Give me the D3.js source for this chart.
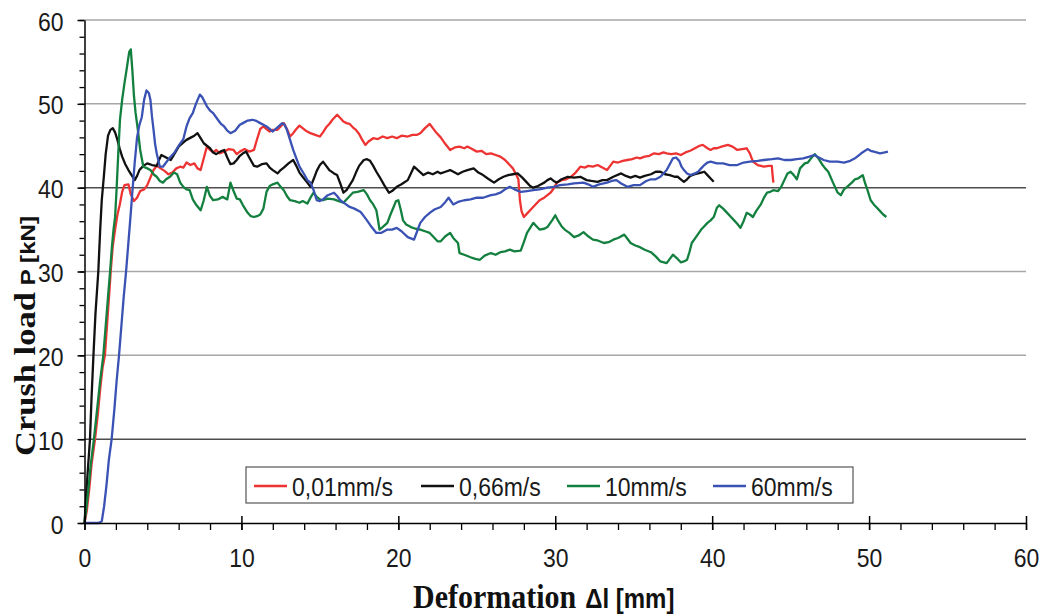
<!DOCTYPE html>
<html><head><meta charset="utf-8">
<script src="https://cdn.jsdelivr.net/npm/d3@7"></script>
<style>body{margin:0;background:#fff}</style>
</head><body><svg id="c" width="1043" height="615"></svg>
<script>
const seriesNames = ["0,01mm/s","0,66m/s","10mm/s","60mm/s"];
const seriesColors = ["#ee3333","#111111","#13803f","#3a52b4"];
const xTicks = [0,10,20,30,40,50,60];
const yTicks = [0,10,20,30,40,50,60];

// Deformation [mm], crush load [kN]
const red = [[0,0],[0.15,1.5],[0.3,4],[0.45,7],[0.67,10],[0.85,13],[1.0,16],[1.15,18.5],[1.3,20],[1.45,24],[1.6,28],[1.67,30],[1.8,33],[1.95,35],[2.1,36.8],[2.25,38],[2.4,39.5],[2.55,40.3],[2.8,40.4],[2.95,39.2],[3.15,38.4],[3.35,38.8],[3.55,39.6],[3.8,39.8],[4.0,40.3],[4.2,41.2],[4.4,42.1],[4.6,42.6],[4.85,42.3],[5.1,42.0],[5.35,41.6],[5.6,41.8],[5.85,42.3],[6.1,42.5],[6.3,42.4],[6.5,43.0],[6.75,42.7],[7.0,42.9],[7.2,42.3],[7.4,42.1],[7.6,43.5],[7.8,44.9],[8.0,44.5],[8.2,44.2],[8.4,44.5],[8.6,44.1],[8.9,44.3],[9.2,44.6],[9.5,44.5],[9.7,44.0],[9.9,44.3],[10.2,44.6],[10.5,44.3],[10.8,44.5],[11.0,45.8],[11.2,47.0],[11.4,47.3],[11.6,47.0],[11.8,46.7],[12.0,46.9],[12.3,46.9],[12.5,47.3],[12.7,47.7],[12.9,47.0],[13.1,46.1],[13.3,46.5],[13.5,47.0],[13.7,47.4],[13.9,47.1],[14.1,46.8],[14.4,46.5],[14.7,46.3],[15.0,46.1],[15.2,46.6],[15.4,47.2],[15.6,47.6],[15.8,48.1],[16.1,48.7],[16.3,48.3],[16.5,47.9],[16.7,47.7],[16.9,47.6],[17.1,47.2],[17.3,46.9],[17.5,46.4],[17.7,45.7],[17.9,45.1],[18.1,45.5],[18.4,45.9],[18.7,45.8],[19.0,46.1],[19.3,45.9],[19.6,46.1],[19.9,45.9],[20.2,46.2],[20.6,46.1],[20.9,46.3],[21.2,46.3],[21.4,46.5],[21.7,47.1],[22.0,47.6],[22.2,47.1],[22.4,46.6],[22.7,46.0],[23.0,45.2],[23.3,44.5],[23.6,44.8],[23.9,44.9],[24.2,44.7],[24.4,44.9],[24.7,44.6],[25.0,44.3],[25.3,44.4],[25.6,44.0],[25.9,44.1],[26.2,43.9],[26.5,43.7],[26.8,43.3],[27.1,42.7],[27.3,42.3],[27.5,41.6],[27.65,41.0],[27.75,38.5],[27.85,37.2],[28.0,36.5],[28.2,36.9],[28.4,37.3],[28.7,37.9],[29.0,38.5],[29.3,38.8],[29.7,39.4],[29.9,39.9],[30.1,40.6],[30.4,40.9],[30.7,41.0],[31.0,41.3],[31.3,41.8],[31.6,42.5],[31.9,42.4],[32.1,42.6],[32.4,42.5],[32.7,42.7],[33.0,42.4],[33.3,42.1],[33.5,42.6],[33.7,43.1],[34.0,43.0],[34.3,43.2],[34.6,43.3],[34.9,43.4],[35.2,43.6],[35.4,43.5],[35.7,43.7],[36.0,43.8],[36.3,44.1],[36.6,44.0],[36.9,44.2],[37.1,44.1],[37.4,44.0],[37.7,44.1],[38.0,43.9],[38.3,44.2],[38.6,44.4],[38.9,44.7],[39.2,45.0],[39.4,45.1],[39.7,44.7],[39.9,44.5],[40.1,44.7],[40.3,44.7],[40.6,44.9],[41.0,45.1],[41.3,44.9],[41.6,44.5],[41.9,44.6],[42.2,44.7],[42.4,44.1],[42.6,43.1],[42.9,42.7],[43.1,42.6],[43.3,42.5],[43.6,42.6],[43.8,42.6],[43.85,41.5],[43.9,40.6]];

const black = [[0,0],[0.1,3],[0.2,6],[0.35,10],[0.45,15],[0.57,20],[0.7,25],[0.88,30],[1.0,35],[1.1,38.5],[1.24,41.5],[1.35,44],[1.5,46.2],[1.65,46.9],[1.8,47.1],[1.95,46.6],[2.1,45.7],[2.25,44.6],[2.4,43.7],[2.6,42.8],[2.8,42.1],[3.0,41.5],[3.2,40.9],[3.35,41.4],[3.5,42.1],[3.75,42.6],[4.0,42.9],[4.3,42.7],[4.6,42.6],[4.75,43.3],[4.9,43.9],[5.2,43.6],[5.5,43.3],[5.75,44.1],[6.0,44.9],[6.25,45.3],[6.5,45.7],[6.8,46.0],[7.0,46.2],[7.2,46.5],[7.4,45.9],[7.6,45.3],[7.8,45.0],[8.0,44.7],[8.2,44.2],[8.4,44.0],[8.65,44.3],[8.9,44.5],[9.1,43.6],[9.3,42.8],[9.5,42.9],[9.7,43.3],[9.9,43.8],[10.1,44.1],[10.3,44.3],[10.5,43.6],[10.8,42.6],[11.0,42.5],[11.3,42.8],[11.6,42.9],[11.8,42.4],[12.0,42.1],[12.3,41.7],[12.5,42.1],[12.7,42.4],[13.0,42.9],[13.3,43.3],[13.5,42.6],[13.7,41.8],[13.9,41.3],[14.2,40.6],[14.4,40.1],[14.6,41.0],[14.8,42.0],[15.0,42.7],[15.2,43.1],[15.4,42.6],[15.6,42.1],[15.9,41.7],[16.1,41.5],[16.3,40.5],[16.5,39.4],[16.7,39.7],[16.9,40.3],[17.1,40.9],[17.3,41.8],[17.5,42.6],[17.8,43.3],[18.0,43.4],[18.2,43.2],[18.4,42.6],[18.6,41.9],[18.8,41.3],[19.1,40.3],[19.4,39.4],[19.6,39.6],[19.9,40.1],[20.2,40.4],[20.6,40.9],[20.8,41.7],[21.0,42.5],[21.3,42.0],[21.6,41.5],[21.9,41.8],[22.2,41.6],[22.5,41.9],[22.7,41.7],[23.0,41.9],[23.3,42.1],[23.6,41.8],[23.8,41.6],[24.1,41.9],[24.4,42.1],[24.8,42.3],[25.1,41.8],[25.4,41.5],[25.7,41.1],[26.1,40.6],[26.4,41.0],[26.7,41.3],[27.0,41.5],[27.3,41.6],[27.6,41.7],[27.9,41.2],[28.2,40.6],[28.4,40.2],[28.6,40.0],[28.9,40.2],[29.1,40.4],[29.3,40.6],[29.5,40.9],[29.7,41.1],[29.9,40.8],[30.1,40.6],[30.4,41.0],[30.8,41.3],[31.2,41.2],[31.6,41.3],[32.0,40.9],[32.3,40.8],[32.7,40.7],[33.0,40.9],[33.3,40.9],[33.7,41.3],[34.2,41.7],[34.5,41.4],[34.8,41.2],[35.1,41.4],[35.4,41.2],[35.7,41.4],[36.1,41.6],[36.4,41.9],[36.7,41.9],[37.0,41.6],[37.3,41.5],[37.6,41.3],[37.8,41.3],[38.0,41.0],[38.2,40.7],[38.4,41.0],[38.6,41.4],[38.9,41.6],[39.1,41.7],[39.3,41.8],[39.5,41.9],[39.7,41.5],[39.9,41.1],[40.1,40.7]];

const green = [[0,0],[0.1,1.5],[0.25,4],[0.4,7],[0.6,10],[0.8,13.5],[1.0,17],[1.2,20],[1.35,23.5],[1.5,27],[1.63,30],[1.75,33],[1.85,35],[1.95,36.5],[2.05,40],[2.15,44],[2.26,48.1],[2.4,50.5],[2.55,52.5],[2.7,54.3],[2.85,56.2],[2.95,56.5],[3.05,54],[3.15,51],[3.25,49],[3.4,46.9],[3.55,44.5],[3.75,42.5],[4.0,42.3],[4.2,42.1],[4.4,41.6],[4.6,41.3],[4.8,40.8],[5.0,40.6],[5.2,41.0],[5.45,41.3],[5.7,41.8],[5.9,41.6],[6.1,40.6],[6.3,40.1],[6.5,39.8],[6.7,39.7],[6.9,38.6],[7.1,38.0],[7.4,37.3],[7.6,38.5],[7.8,40.1],[8.0,39.0],[8.2,38.5],[8.5,38.6],[8.8,38.9],[9.1,38.6],[9.3,40.6],[9.5,39.6],[9.7,38.7],[9.9,38.6],[10.1,37.9],[10.4,37.0],[10.6,36.6],[10.8,36.5],[11.0,36.6],[11.2,36.8],[11.4,37.5],[11.6,39.5],[11.8,40.2],[12.0,40.4],[12.3,40.6],[12.5,40.1],[12.7,39.7],[12.9,39.0],[13.1,38.5],[13.4,38.4],[13.7,38.2],[13.9,38.4],[14.2,38.1],[14.4,38.8],[14.6,39.4],[14.8,38.9],[15.0,38.6],[15.2,38.5],[15.5,38.7],[15.9,38.6],[16.2,38.4],[16.5,38.2],[16.8,38.8],[17.1,39.4],[17.4,39.5],[17.8,39.7],[18.0,39.2],[18.2,38.5],[18.4,38.0],[18.6,37.3],[18.7,36.2],[18.8,35.0],[19.0,35.3],[19.3,35.8],[19.5,36.8],[19.7,37.7],[19.85,38.4],[20.0,38.5],[20.15,37.4],[20.3,36.1],[20.5,35.6],[20.8,35.3],[21.1,35.1],[21.4,35.0],[21.7,34.8],[22.0,34.6],[22.2,34.2],[22.5,33.6],[22.7,33.6],[23.0,34.2],[23.3,34.6],[23.5,34.0],[23.8,33.4],[23.9,32.2],[24.2,32.0],[24.6,31.7],[24.9,31.5],[25.2,31.4],[25.5,31.9],[25.9,32.2],[26.2,32.0],[26.5,32.3],[26.8,32.4],[27.1,32.6],[27.4,32.4],[27.8,32.5],[28.0,33.5],[28.2,34.6],[28.4,35.2],[28.6,35.8],[28.8,35.4],[29.0,35.0],[29.3,35.1],[29.5,35.3],[29.8,36.1],[30.0,36.7],[30.2,36.0],[30.4,35.4],[30.6,35.0],[30.9,34.6],[31.2,34.1],[31.5,34.3],[31.8,34.7],[32.1,34.2],[32.4,33.8],[32.7,33.7],[33.1,33.4],[33.4,33.5],[33.7,33.8],[34.0,34.0],[34.4,34.4],[34.6,33.9],[34.8,33.4],[35.1,33.1],[35.4,32.9],[35.7,32.6],[36.1,32.3],[36.4,31.8],[36.7,31.2],[37.1,31.0],[37.3,31.5],[37.5,32.0],[37.8,31.5],[38.0,31.1],[38.2,31.2],[38.4,31.4],[38.55,32.3],[38.7,33.4],[39.0,34.2],[39.3,35.0],[39.5,35.4],[39.7,35.8],[39.9,36.1],[40.1,36.5],[40.3,37.6],[40.45,37.9],[40.7,37.5],[41.0,36.9],[41.2,36.5],[41.4,36.1],[41.6,35.7],[41.8,35.2],[42.0,36.0],[42.2,37.0],[42.4,36.8],[42.6,36.5],[42.8,37.2],[43.1,38.0],[43.3,38.8],[43.5,39.4],[43.7,39.5],[43.9,39.7],[44.2,39.6],[44.4,40.1],[44.6,40.9],[44.8,41.7],[45.0,41.9],[45.2,41.5],[45.4,41.0],[45.6,42.3],[45.9,42.9],[46.1,43.0],[46.3,43.5],[46.55,44.0],[46.8,43.4],[47.0,42.8],[47.2,42.3],[47.4,41.9],[47.7,40.6],[48.0,39.4],[48.2,39.1],[48.4,39.8],[48.6,40.1],[48.9,40.6],[49.1,41.0],[49.3,41.1],[49.45,41.3],[49.6,41.5],[49.75,40.5],[49.9,39.7],[50.1,38.5],[50.3,38.0],[50.5,37.6],[50.7,37.2],[50.9,36.8],[51.1,36.5]];

const blue = [[0,0],[0.5,0],[0.9,0],[1.1,0.2],[1.25,2],[1.4,4.5],[1.55,7.5],[1.73,10],[1.9,13.5],[2.05,17],[2.2,20],[2.35,23.5],[2.5,27],[2.65,30],[2.8,33.5],[2.95,37],[3.05,39.5],[3.2,43],[3.35,46],[3.5,47.5],[3.65,48.4],[3.8,50.5],[3.95,51.6],[4.1,51.3],[4.2,50.5],[4.3,48.5],[4.4,46.9],[4.5,45.2],[4.6,44.1],[4.8,42.5],[5.0,42.5],[5.2,43.0],[5.4,43.5],[5.7,44.1],[6.0,45.0],[6.3,45.8],[6.5,47.3],[6.7,48.3],[6.9,48.9],[7.1,50.0],[7.35,51.1],[7.5,50.8],[7.8,49.7],[8.0,49.2],[8.2,48.9],[8.5,48.1],[8.7,47.6],[8.9,47.3],[9.1,46.8],[9.3,46.5],[9.6,46.8],[9.9,47.5],[10.1,47.7],[10.4,48.0],[10.7,48.1],[10.9,48.0],[11.2,47.7],[11.4,47.5],[11.6,47.3],[11.8,47.0],[12.0,46.7],[12.3,47.2],[12.6,47.7],[12.75,47.5],[12.9,46.9],[13.1,45.7],[13.3,44.5],[13.5,43.5],[13.7,42.5],[14.0,41.6],[14.2,40.9],[14.4,40.6],[14.6,39.7],[14.8,38.5],[15.0,38.4],[15.2,38.6],[15.5,39.1],[15.9,39.4],[16.1,39.0],[16.3,38.5],[16.6,38.1],[16.9,37.7],[17.2,37.5],[17.6,37.1],[17.8,36.6],[18.0,36.1],[18.3,35.3],[18.6,34.6],[18.9,34.6],[19.3,35.0],[19.6,35.0],[19.9,35.2],[20.2,34.8],[20.6,34.1],[21.0,33.8],[21.2,34.8],[21.4,35.8],[21.7,36.5],[22.0,37.0],[22.3,37.4],[22.7,37.7],[23.0,38.3],[23.2,38.8],[23.5,38.0],[23.8,38.3],[24.2,38.5],[24.6,38.6],[25.0,38.8],[25.4,38.8],[25.9,39.1],[26.2,39.2],[26.5,39.4],[26.8,39.8],[27.1,40.1],[27.4,39.8],[27.8,39.5],[28.2,39.6],[28.6,39.7],[29.0,39.8],[29.5,40.0],[29.9,40.1],[30.3,40.3],[30.8,40.4],[31.2,40.5],[31.8,40.6],[32.1,40.4],[32.4,40.1],[32.8,40.4],[33.3,40.6],[33.6,40.8],[33.9,40.9],[34.2,40.5],[34.6,40.1],[35.0,40.3],[35.4,40.3],[35.8,40.8],[36.1,41.0],[36.4,41.0],[36.7,41.3],[36.9,41.7],[37.1,42.1],[37.3,42.8],[37.5,43.5],[37.7,43.6],[37.9,43.2],[38.05,42.5],[38.2,42.1],[38.4,41.7],[38.6,41.5],[38.9,41.7],[39.1,41.9],[39.3,42.3],[39.5,42.7],[39.7,43.0],[39.9,43.1],[40.3,42.9],[40.7,42.9],[41.1,42.7],[41.6,42.7],[42.0,43.0],[42.4,43.1],[42.9,43.2],[43.3,43.3],[43.8,43.4],[44.2,43.5],[44.6,43.3],[45.0,43.3],[45.4,43.4],[45.8,43.5],[46.2,43.7],[46.5,43.9],[46.8,43.6],[47.1,43.3],[47.5,43.1],[48.0,43.1],[48.4,43.0],[48.8,43.2],[49.1,43.5],[49.5,44.1],[49.9,44.6],[50.1,44.4],[50.3,44.3],[50.7,44.1],[51.0,44.2],[51.2,44.3]];

const seriesData = [red, black, green, blue];

const SY = 1.15; // vertical stretch of the original text
const svg = d3.select("#c");
const x = d3.scaleLinear().domain([0, 60]).range([84.5, 1026]);
const y = d3.scaleLinear().domain([0, 60]).range([523, 20]);

// gridlines
svg.append("g").selectAll("line").data(yTicks.filter(v => v > 0)).join("line")
  .attr("x1", x(0)).attr("x2", x(60))
  .attr("y1", d => y(d)).attr("y2", d => y(d))
  .attr("stroke", d => (d === 10 || d === 40) ? "#4d4d4d" : "#a6a6a6")
  .attr("stroke-width", 1.5);

// series
const line = d3.line().x(d => x(d[0])).y(d => y(d[1]));
svg.append("g").selectAll("path").data(seriesData).join("path")
  .attr("d", line).attr("fill", "none")
  .attr("stroke", (d, i) => seriesColors[i])
  .attr("stroke-width", 2.3).attr("stroke-linejoin", "round");

// minor ticks
svg.append("g").attr("transform", `translate(0,${y(0)})`)
  .call(d3.axisBottom(x).tickValues(d3.range(0, 61, 2)).tickSize(7).tickSizeOuter(0).tickFormat(""))
  .call(g => g.select(".domain").remove())
  .selectAll("line").attr("stroke", "#000").attr("stroke-width", 1.3);
svg.append("g").attr("transform", `translate(${x(0)},0)`)
  .call(d3.axisLeft(y).tickValues(d3.range(0, 61, 2)).tickSize(5).tickSizeOuter(0).tickFormat(""))
  .call(g => g.select(".domain").remove())
  .selectAll("line").attr("stroke", "#000").attr("stroke-width", 1.3);

// major x axis
const gx = svg.append("g").attr("transform", `translate(0,${y(0)})`)
  .call(d3.axisBottom(x).tickValues(xTicks).tickSize(7).tickSizeOuter(0));
gx.select(".domain").attr("stroke", "#000").attr("stroke-width", 1.5);
gx.selectAll(".tick line").attr("y1", -7).attr("stroke", "#000").attr("stroke-width", 1.5);
gx.selectAll(".tick text")
  .attr("y", 0).attr("dy", "0.71em")
  .attr("transform", `translate(0,25) scale(1,${SY})`)
  .attr("font-family", "Liberation Sans, Arial, sans-serif").attr("font-size", 23).attr("fill", "#1a1a1a");

// major y axis
const gy = svg.append("g").attr("transform", `translate(${x(0)},0)`)
  .call(d3.axisLeft(y).tickValues(yTicks).tickSize(7).tickSizeOuter(0).tickPadding(14));
gy.select(".domain").attr("stroke", "#000").attr("stroke-width", 1.5);
gy.selectAll(".tick line").attr("stroke", "#000").attr("stroke-width", 1.5);
gy.selectAll(".tick text")
  .attr("dy", "0.38em")
  .attr("transform", `scale(1,${SY})`)
  .attr("font-family", "Liberation Sans, Arial, sans-serif").attr("font-size", 23).attr("fill", "#1a1a1a");

// legend
const lg = svg.append("g");
lg.append("rect").attr("x", 246).attr("y", 467).attr("width", 607).attr("height", 36)
  .attr("fill", "#fff").attr("stroke", "#555").attr("stroke-width", 1.2);
const legStart = [254, 421, 567, 713];
const items = lg.selectAll("g.item").data(seriesNames).join("g").attr("class", "item")
  .attr("transform", (d, i) => `translate(${legStart[i]},486)`);
items.append("line").attr("x1", 0).attr("x2", 33).attr("y1", 0).attr("y2", 0)
  .attr("stroke", (d, i) => seriesColors[i]).attr("stroke-width", 2.3);
items.append("text").attr("x", 38).attr("y", 0).attr("dy", "0.36em")
  .attr("transform", `scale(1,${SY})`)
  .attr("font-family", "Liberation Sans, Arial, sans-serif").attr("font-size", 23).attr("fill", "#1a1a1a")
  .text(d => d);

// axis titles
const yt = svg.append("text")
  .attr("transform", `translate(35,456) scale(1,${SY}) rotate(-90)`)
  .attr("font-weight", "bold").attr("fill", "#111");
yt.append("tspan").attr("font-family", "Liberation Serif, Times New Roman, serif").attr("font-size", 30).text("Crush load");
yt.append("tspan").attr("dx", 6).attr("font-family", "Liberation Sans, Arial, sans-serif").attr("font-size", 21).text("P [kN]");

const xt = svg.append("text")
  .attr("transform", `translate(413,608) scale(1,${SY})`)
  .attr("font-weight", "bold").attr("fill", "#111");
xt.append("tspan").attr("font-family", "Liberation Serif, Times New Roman, serif").attr("font-size", 30).text("Deformation");
xt.append("tspan").attr("dx", 9).attr("font-family", "Liberation Sans, Arial, sans-serif").attr("font-size", 24).text("Δl [mm]");
</script>
</body></html>
